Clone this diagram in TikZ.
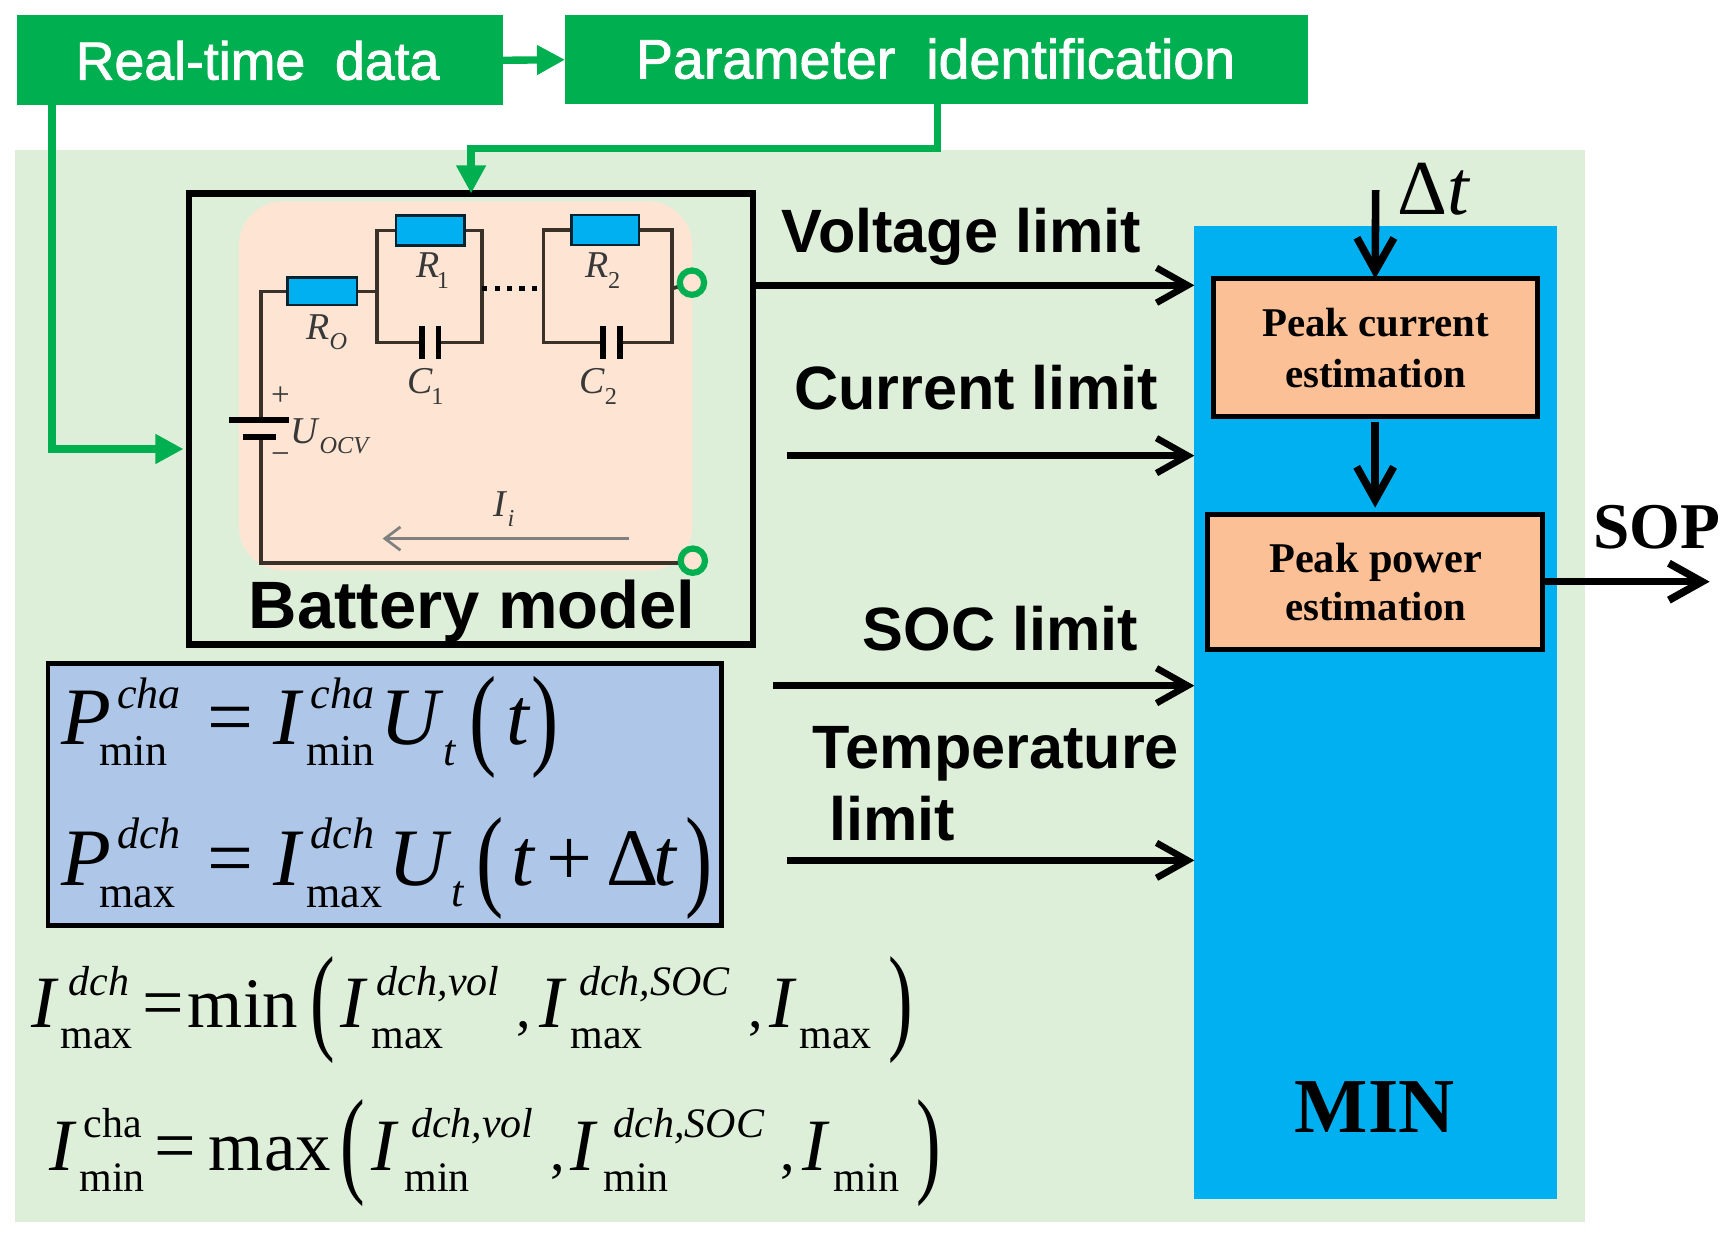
\documentclass[tikz,border=0pt]{standalone}
\usepackage{fontspec}
\usepackage{graphicx}
\usetikzlibrary{arrows.meta}
\setmainfont{Liberation Serif}
\newfontfamily\arial{Liberation Sans}
\newfontfamily\arialm{Liberation Sans}[FakeBold=1.6]

\newlength\mpx
\setlength\mpx{0.02cm}
\newcommand{\fsz}[1]{\fontsize{#1}{#1}\selectfont}
% piece of a formula: x from the node, raise, size, content
\newcommand{\tx}[4]{\makebox[0pt][l]{\hspace*{#1\mpx}\raisebox{#2\mpx}{\fsz{#3}#4}}}
\newcommand{\pn}[1]{\scalebox{1}[#1]}

\definecolor{panelgreen}{HTML}{DDEFD9}
\definecolor{headgreen}{HTML}{00B050}
\definecolor{skyblue}{HTML}{00B0F0}
\definecolor{peach}{HTML}{FBC095}
\definecolor{salmon}{HTML}{FDE4D3}
\definecolor{eqblue}{HTML}{AEC6E8}
\definecolor{wirecol}{HTML}{3A3228}
\definecolor{cirtext}{HTML}{383838}

\tikzset{
  wh/.style 2 args={minimum width=#1*\mpx, minimum height=#2*\mpx},
  flat/.style={inner sep=0pt, outer sep=0pt, draw=none},
  hbox/.style={flat, fill=headgreen},
  ebox/.style={flat, draw=black, line width=2.6pt, fill=peach},
  res/.style={flat, draw=black!80!skyblue, line width=1.3pt, fill=skyblue},
  term/.style={circle, inner sep=0pt, outer sep=0pt, minimum size=22*\mpx, draw=headgreen, line width=3.2pt, fill=salmon},
  lbl/.style={inner sep=0pt, outer sep=0pt, anchor=base},
  lim/.style={lbl, font=\arial\bfseries\fsz{31.5}},
  est/.style={lbl, font=\bfseries\fsz{21}},
  cir/.style={lbl, anchor=base west, text=cirtext, font=\itshape\fsz{19.5}},
  cirs/.style={lbl, anchor=base west, text=cirtext, font=\fsz{12.5}},
  eqn/.style={inner sep=0pt, outer sep=0pt, anchor=base west},
  wire/.style={draw=wirecol, line width=1.9pt},
  plate/.style={draw=black, line width=2.9pt},
  garrow/.style={draw=headgreen, line width=3.8pt, -{Triangle[length=14.5pt,width=14.5pt]}},
  barrow/.style={draw=black, line width=3.4pt, -{Straight Barb[length=16pt,width=18pt]}},
  karrow/.style={draw=black, line width=3.9pt, -{Straight Barb[length=17pt,width=19pt]}},
}

\begin{document}
\begin{tikzpicture}[x=\mpx, y=-\mpx]
  \useasboundingbox (0,0) rectangle (1568,1123);

  % panels
  \node[flat, fill=panelgreen, wh={1419}{969}] (panel) at (723.5,620.5) {};
  \node[flat, fill=skyblue, wh={328}{880}] (mn) at (1244,644) {};
  \node[flat, fill=salmon, rounded corners=40\mpx, wh={410}{334}] (cir) at (421,349) {};
  \node[flat, draw=black, line width=3.4pt, wh={510}{408}] (bat) at (426,379) {};

  % top boxes
  \node[hbox, wh={440}{81}] (rt) at (235,54.5) {};
  \node[hbox, wh={672}{80}] (pi) at (847,54) {};
  \node[lbl, text=white, font=\arialm\fsz{27.6}] (rtt) at (233,72) {Real-time\hspace{.28em} data};
  \node[lbl, text=white, font=\arialm\fsz{28.6}] (pit) at (846,71) {Parameter\hspace{.28em} identification};

  \coordinate (rtturn) at (47,406);
  \coordinate (battin) at (166,406);
  \coordinate (piturn) at (848,134);
  \draw[garrow] (rt.east) -- (pi.west);
  \draw[garrow] (rt.south -| rtturn) -- (rtturn) -- (battin);
  \draw[garrow] (pi.south -| piturn) -- (piturn) -| (bat.north);

  % circuit
  \coordinate (tl) at (236,263.5);
  \coordinate (bl) at (236,509);
  \coordinate (up) at (236,380);
  \coordinate (dn) at (236,395);
  \coordinate (al) at (341,263.5);
  \coordinate (ar) at (436,261);
  \coordinate (bll) at (491.5,261);
  \coordinate (brr) at (607.4,261);
  \coordinate (r0p) at (291.5,263.5);
  \coordinate (r1p) at (389,208.5);
  \coordinate (r2p) at (547.5,208);
  \node[flat, wh={15}{30}] (c1) at (389,309.6) {};
  \node[flat, wh={15}{30}] (c2) at (553,309.6) {};
  \draw[wire] (r0p) -- (tl) -- (up);
  \draw[wire] (dn) -- (bl) -- (626.5,509);
  \draw[wire] (r0p) -- (al);
  \draw[wire] (r1p) -| (al) -- (al |- c1.west) -- (c1.west);
  \draw[wire] (r1p) -| (ar) -- (ar |- c1.east) -- (c1.east);
  \draw[wire] (r2p) -| (bll) -- (bll |- c2.west) -- (c2.west);
  \draw[wire] (r2p) -| (brr) -- (brr |- c2.east) -- (c2.east);
  \draw[wire] (brr) -- (625.7,255.6);
  \node[res, wh={63}{25}] (r0) at (r0p) {};
  \node[res, wh={62}{27}] (r1) at (r1p) {};
  \node[res, wh={61}{27}] (r2) at (r2p) {};
  \node[term] (t1) at (625.7,255.6) {};
  \node[term] (t2) at (626.5,507) {};
  \draw[draw=black, line width=2.6pt, dash pattern=on 2.6pt off 3.8pt] (ar) -- (bll);
  \draw[plate] (c1.north west) -- (c1.south west);
  \draw[plate] (c1.north east) -- (c1.south east);
  \draw[plate] (c2.north west) -- (c2.south west);
  \draw[plate] (c2.north east) -- (c2.south east);
  \draw[draw=black, line width=3pt] (207,380) -- (261,380);
  \draw[draw=black, line width=3pt] (220,395) -- (250,395);

  \node[cir] (l0) at (277,307) {R};
  \node[cirs, font=\itshape\fsz{12.5}] (l0s) at (298,316) {O};
  \node[cir] (l1) at (377,251) {R};
  \node[cirs] (l1s) at (395,261) {1};
  \node[cir] (l2) at (529.6,251) {R};
  \node[cirs] (l2s) at (550,261) {2};
  \node[cir] (l3) at (368.7,355.7) {C};
  \node[cirs] (l3s) at (390,366) {1};
  \node[cir] (l4) at (524,355.7) {C};
  \node[cirs] (l4s) at (547,366) {2};
  \node[cir] (lu) at (263,401) {U};
  \node[cirs, font=\itshape\fsz{12.5}] (lus) at (289,410) {OCV};
  \node[cir] (li) at (446.5,467) {I};
  \node[cirs, font=\itshape\fsz{12.5}] (lis) at (459,476) {i};
  \node[cirs, anchor=base, font=\fsz{17}] (lp) at (253.5,367) {+};
  \node[cirs, anchor=base, font=\fsz{17}] (lm) at (253.5,420) {−};
  \coordinate (is) at (569,487);
  \coordinate (ie) at (346,487);
  \draw[draw=black!50, line width=1.4pt, -{Straight Barb[length=8pt,width=12pt]}] (is) -- (ie);
  \node[lbl, font=\arial\bfseries\fsz{34.5}] (bt) at (427,568) {Battery model};

  % right block
  \node[ebox, wh={293}{125}] (pc) at (1243.5,314.5) {};
  \node[ebox, wh={303}{122}] (pp) at (1243.5,526) {};
  \node[est] (pc1) at (1244,304.7) {Peak current};
  \node[est] (pc2) at (1244,350) {estimation};
  \node[est, font=\bfseries\fsz{21.8}] (pp1) at (1244,518) {Peak power};
  \node[est] (pp2) at (1244,561) {estimation};
  \node[lbl, font=\bfseries\fsz{40}] (mnt) at (1243,1024) {MIN};
  \node[lbl, anchor=base west, font=\fsz{40}] (dt) at (1264,194) {Δ\textit{t}};
  \node[lbl, anchor=base west, font=\bfseries\fsz{33.6}] (sop) at (1441,496) {SOP};
  \coordinate (dts) at (1244,172);
  \path (pp.east) ++(151,0) coordinate (sope);
  \draw[karrow] (dts) -- (pc.north);
  \draw[karrow, shorten <=5\mpx, shorten >=6\mpx] (pc.south) -- (pp.north);
  \draw[karrow] (pp.east) -- (sope);

  % limits
  \node[lim, anchor=base west] (vl) at (707,228) {Voltage limit};
  \node[lim, anchor=base west] (cl) at (718,370) {Current limit};
  \node[lim, anchor=base west] (sl) at (780,588) {SOC limit};
  \node[lim, anchor=base west] (tl1) at (735,695) {Temperature};
  \node[lim, anchor=base west] (tl2) at (750,760) {limit};
  \coordinate (vs) at (682,258);
  \coordinate (cs) at (712,412);
  \coordinate (ss) at (699,620);
  \coordinate (ts) at (712,778);
  \draw[barrow] (vs) -- (vs -| mn.west);
  \draw[barrow] (cs) -- (cs -| mn.west);
  \draw[barrow] (ss) -- (ss -| mn.west);
  \draw[barrow] (ts) -- (ts -| mn.west);

  % formulas
  \node[flat, draw=black, line width=2.4pt, fill=eqblue, wh={609}{237}] (eqbox) at (348,718.5) {};
  \node[eqn] (eqa) at (55,673) {%
    \tx{0}{0}{42}{\textit{P}}\tx{50}{32}{22.7}{\textit{cha}}\tx{34}{-19}{22.7}{min}%
    \tx{132}{0}{42}{=}\tx{191}{0}{42}{\textit{I}}\tx{225}{32}{22.7}{\textit{cha}}\tx{221}{-19}{22.7}{min}%
    \tx{288}{0}{42}{\textit{U}}\tx{345}{-19}{22.7}{\textit{t}}%
    \tx{369}{-9}{42}{\pn{1.38}{(}}\tx{402}{0}{42}{\textit{t}}\tx{425}{-9}{42}{\pn{1.38}{)}}};
  \node[eqn] (eqb) at (55,801) {%
    \tx{0}{0}{42}{\textit{P}}\tx{50}{34}{22.7}{\textit{dch}}\tx{34}{-20}{22.7}{max}%
    \tx{132}{0}{42}{=}\tx{191}{0}{42}{\textit{I}}\tx{225}{34}{22.7}{\textit{dch}}\tx{221}{-20}{22.7}{max}%
    \tx{295}{0}{42}{\textit{U}}\tx{352}{-19}{22.7}{\textit{t}}%
    \tx{375}{-9}{42}{\pn{1.38}{(}}\tx{407}{0}{42}{\textit{t}}\tx{438}{0}{42}{+}%
    \tx{493}{0}{42}{Δ}\tx{535}{0}{42}{\textit{t}}\tx{564}{-9}{42}{\pn{1.38}{)}}};
  \node[eqn] (eqc) at (28,929) {%
    \tx{0}{0}{38}{\textit{I}}\tx{33}{29}{21.6}{\textit{dch}}\tx{26}{-19}{21.6}{max}%
    \tx{100}{0}{38}{=}\tx{141}{0}{36.5}{min}%
    \tx{252}{-10}{38}{\pn{1.6}{(}}%
    \tx{279}{0}{38}{\textit{I}}\tx{312}{29}{21.6}{\textit{dch,vol}}\tx{307}{-19}{21.6}{max}%
    \tx{438}{0}{30}{,}%
    \tx{459}{0}{38}{\textit{I}}\tx{495}{29}{21.6}{\textit{dch,SOC}}\tx{487}{-19}{21.6}{max}%
    \tx{648}{0}{30}{,}%
    \tx{667}{0}{38}{\textit{I}}\tx{694}{-19}{21.6}{max}%
    \tx{775}{-10}{38}{\pn{1.6}{)}}};
  \node[eqn] (eqd) at (44,1058.6) {%
    \tx{0}{0}{38}{\textit{I}}\tx{31}{30}{21.6}{cha}\tx{27}{-19}{21.6}{min}%
    \tx{95}{0}{38}{=}\tx{144}{0}{36.5}{max}%
    \tx{263}{-10}{38}{\pn{1.6}{(}}%
    \tx{291}{0}{38}{\textit{I}}\tx{327}{30}{21.6}{\textit{dch,vol}}\tx{321}{-19}{21.6}{min}%
    \tx{453}{0}{30}{,}%
    \tx{471}{0}{38}{\textit{I}}\tx{510}{30}{21.6}{\textit{dch,SOC}}\tx{501}{-19}{21.6}{min}%
    \tx{661}{0}{30}{,}%
    \tx{681}{0}{38}{\textit{I}}\tx{709}{-19}{21.6}{min}%
    \tx{784}{-10}{38}{\pn{1.6}{)}}};
\end{tikzpicture}
\end{document}
